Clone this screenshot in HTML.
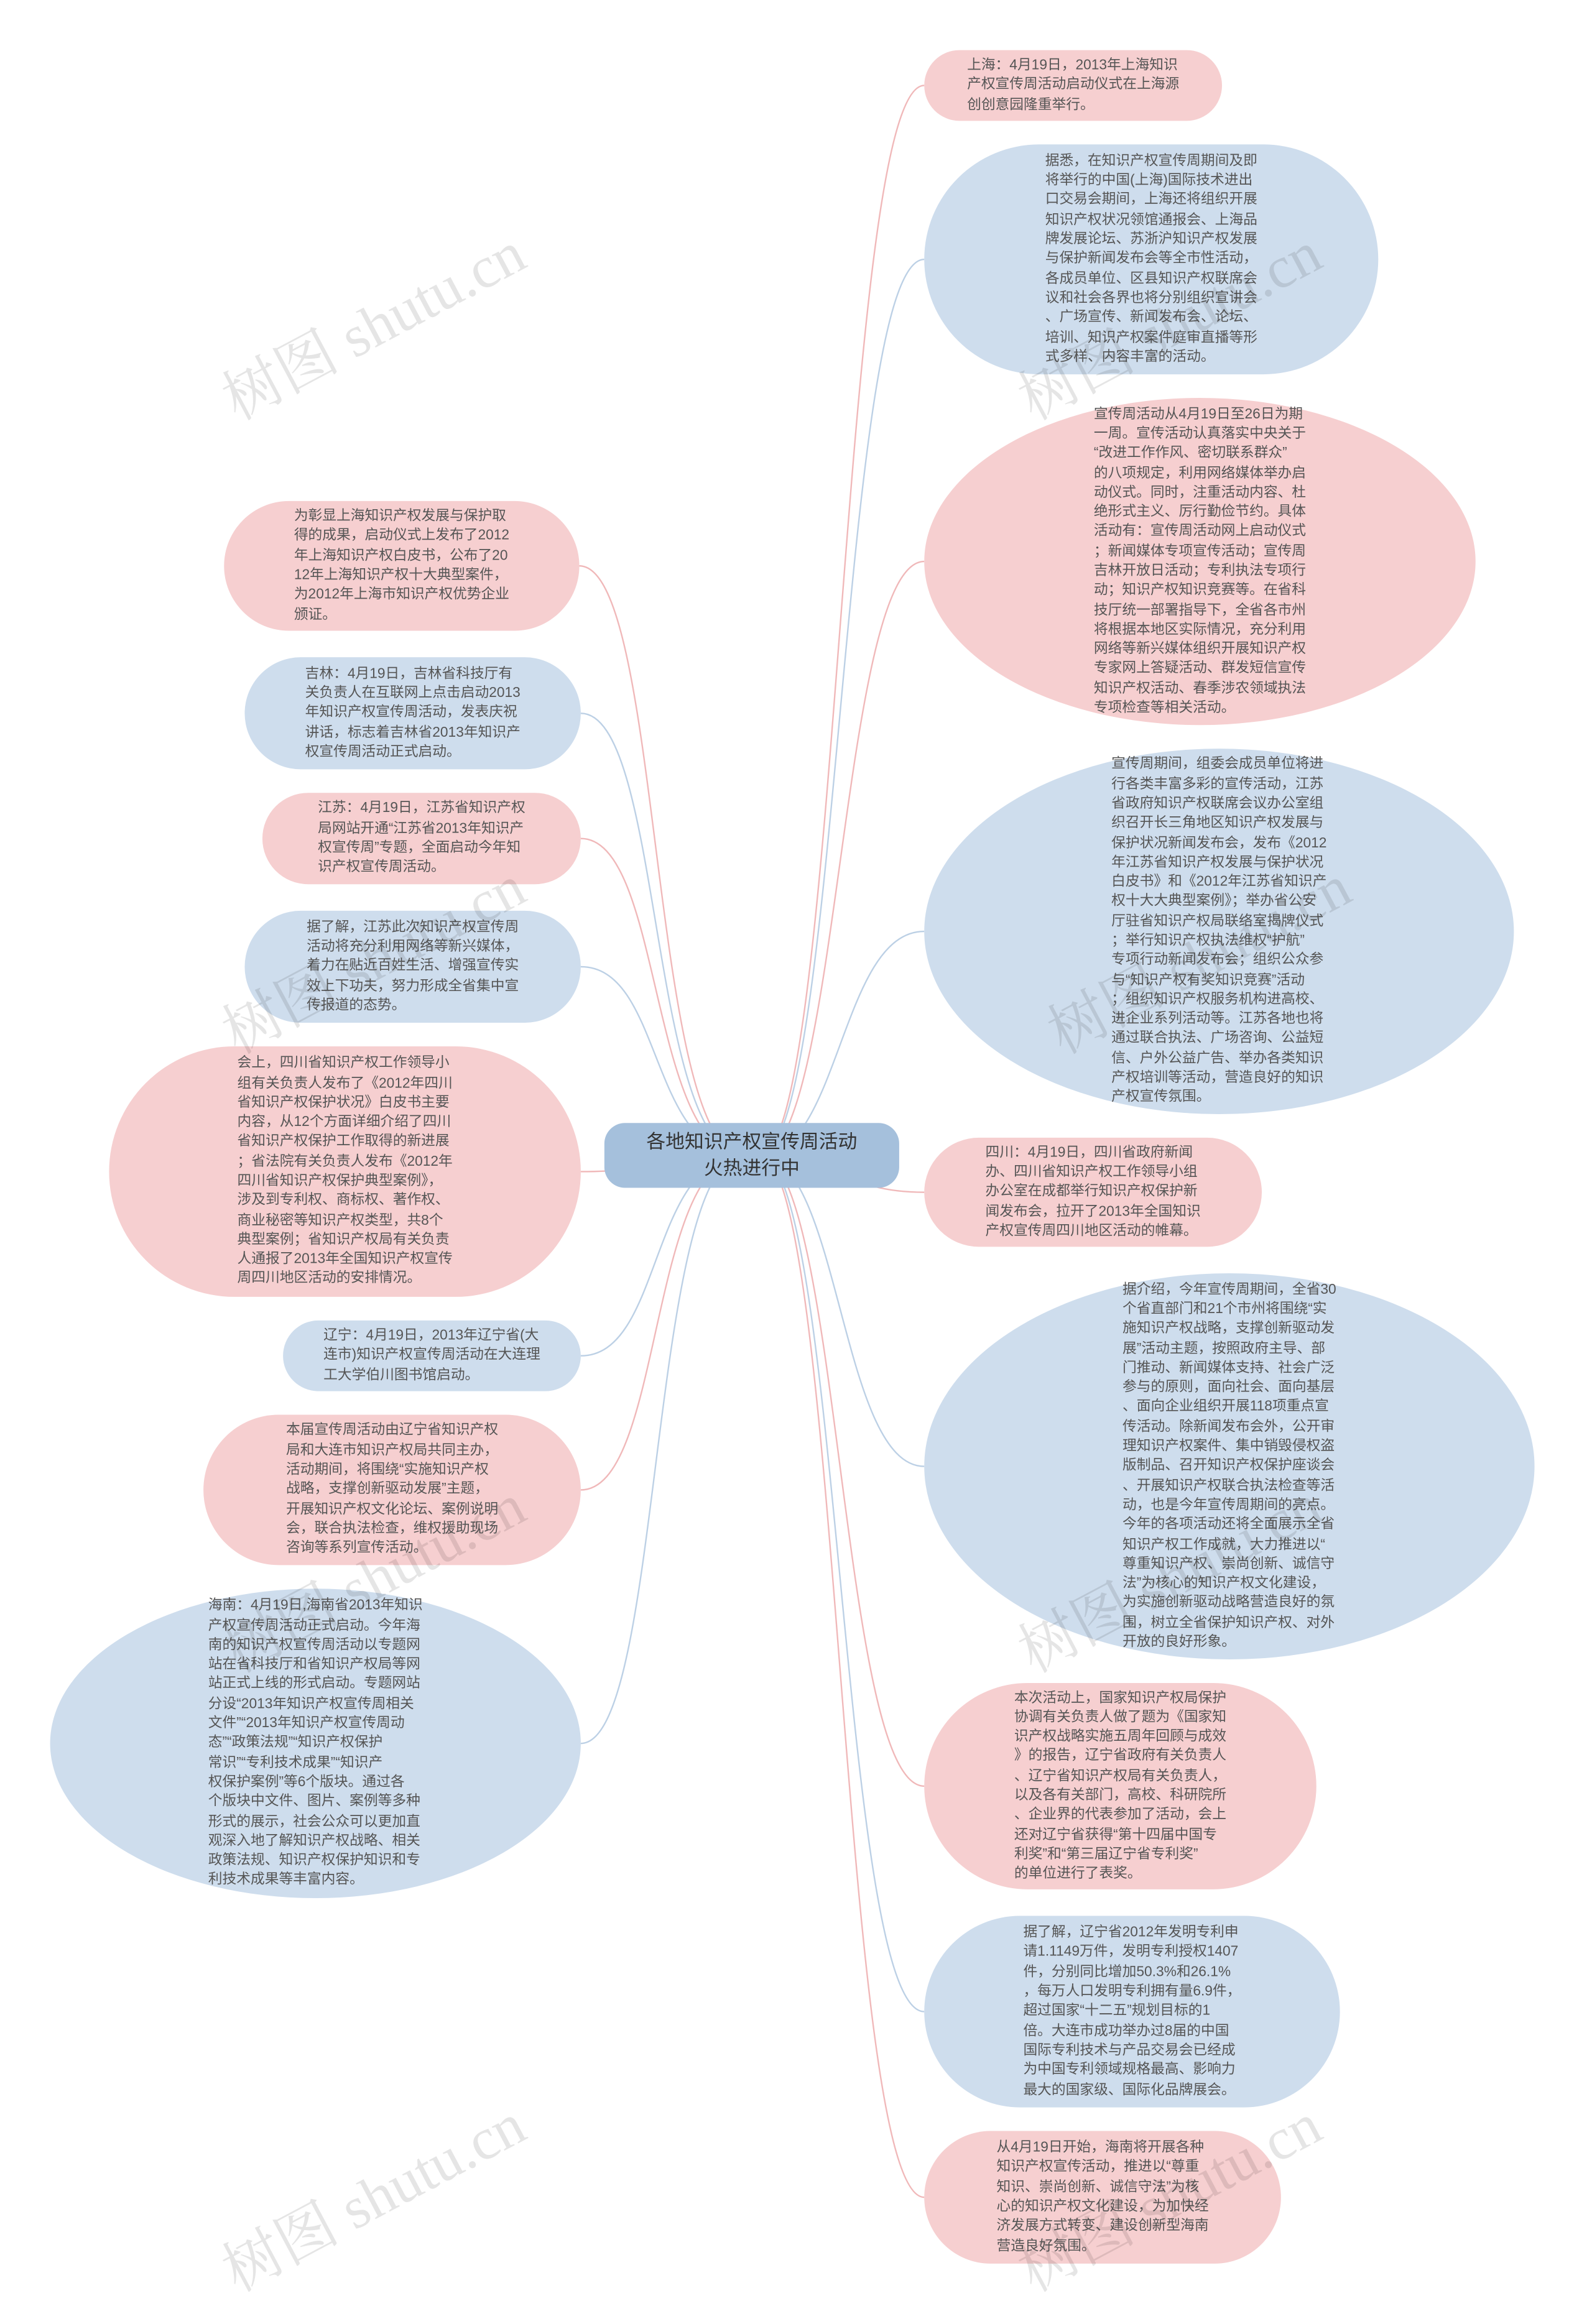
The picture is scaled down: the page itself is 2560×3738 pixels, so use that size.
<!DOCTYPE html>
<html><head><meta charset="utf-8"><style>
html,body{margin:0;padding:0;background:#fff}
#w{width:1080px;height:1577px;position:relative;transform:scale(2.37037);transform-origin:0 0;overflow:hidden;font-family:"Liberation Sans","Noto Sans CJK SC",sans-serif}
.n{position:absolute;box-sizing:border-box;display:flex;align-items:center;justify-content:center;font-size:9.6px;line-height:13.3px;color:#555}
.n div{text-align:left;white-space:nowrap}
.p{background:#f6cfd0}
.b{background:#cedded}
.c{background:#a5c0dc;font-size:13px;line-height:18px;color:#333}
.c div{text-align:center}
.wm{position:absolute;font-size:40px;color:rgba(0,0,0,0.10);transform:rotate(-28deg);white-space:nowrap;font-family:"Liberation Serif","Noto Serif CJK SC",serif}
svg{position:absolute;left:0;top:0}
</style></head><body><div id="w">
<svg width="1080" height="1577" fill="none" stroke-width="1">
<g stroke="#f0b8b9">
<path d="M515 784 C570 784 570 58 627 58"/>
<path d="M515 784 C570 784 570 381 627 381"/>
<path d="M515 784 C570 784 570 809 627 809"/>
<path d="M515 784 C570 784 570 1212 627 1212"/>
<path d="M515 784 C570 784 570 1491 627 1491"/>
<path d="M505 784 C440 784 450 384 393 384"/>
<path d="M505 784 C440 784 450 569 394 569"/>
<path d="M505 784 C440 784 450 795 394 795"/>
<path d="M505 784 C440 784 450 1011 394 1011"/>
</g>
<g stroke="#bcd0e5">
<path d="M515 784 C570 784 570 176 627 176"/>
<path d="M515 784 C570 784 570 632 627 632"/>
<path d="M515 784 C570 784 570 995 627 995"/>
<path d="M515 784 C570 784 570 1365 627 1365"/>
<path d="M505 784 C440 784 450 484 394 484"/>
<path d="M505 784 C440 784 450 656 394 656"/>
<path d="M505 784 C440 784 450 920 394 920"/>
<path d="M505 784 C440 784 450 1183 394 1183"/>
</g>
</svg>

<div class="n c" style="left:410px;top:762px;width:200px;height:44px;border-radius:14px"><div>各地知识产权宣传周活动<br>火热进行中</div></div>

<div class="n p" style="left:627px;top:34px;width:202px;height:48px;border-radius:24px"><div>上海：4月19日，2013年上海知识<br>产权宣传周活动启动仪式在上海源<br>创创意园隆重举行。</div></div>

<div class="n b" style="left:627px;top:98px;width:308px;height:156px;border-radius:78px"><div>据悉，在知识产权宣传周期间及即<br>将举行的中国(上海)国际技术进出<br>口交易会期间，上海还将组织开展<br>知识产权状况领馆通报会、上海品<br>牌发展论坛、苏浙沪知识产权发展<br>与保护新闻发布会等全市性活动，<br>各成员单位、区县知识产权联席会<br>议和社会各界也将分别组织宣讲会<br>、广场宣传、新闻发布会、论坛、<br>培训、知识产权案件庭审直播等形<br>式多样、内容丰富的活动。</div></div>

<div class="n p" style="left:627px;top:270px;width:374px;height:222px;border-radius:50%"><div>宣传周活动从4月19日至26日为期<br>一周。宣传活动认真落实中央关于<br>“改进工作作风、密切联系群众”<br>的八项规定，利用网络媒体举办启<br>动仪式。同时，注重活动内容、杜<br>绝形式主义、厉行勤俭节约。具体<br>活动有：宣传周活动网上启动仪式<br>；新闻媒体专项宣传活动；宣传周<br>吉林开放日活动；专利执法专项行<br>动；知识产权知识竞赛等。在省科<br>技厅统一部署指导下，全省各市州<br>将根据本地区实际情况，充分利用<br>网络等新兴媒体组织开展知识产权<br>专家网上答疑活动、群发短信宣传<br>知识产权活动、春季涉农领域执法<br>专项检查等相关活动。</div></div>

<div class="n b" style="left:627px;top:508px;width:400px;height:248px;border-radius:50%"><div>宣传周期间，组委会成员单位将进<br>行各类丰富多彩的宣传活动，江苏<br>省政府知识产权联席会议办公室组<br>织召开长三角地区知识产权发展与<br>保护状况新闻发布会，发布《2012<br>年江苏省知识产权发展与保护状况<br>白皮书》和《2012年江苏省知识产<br>权十大大典型案例》；举办省公安<br>厅驻省知识产权局联络室揭牌仪式<br>；举行知识产权执法维权“护航”<br>专项行动新闻发布会；组织公众参<br>与“知识产权有奖知识竞赛”活动<br>；组织知识产权服务机构进高校、<br>进企业系列活动等。江苏各地也将<br>通过联合执法、广场咨询、公益短<br>信、户外公益广告、举办各类知识<br>产权培训等活动，营造良好的知识<br>产权宣传氛围。</div></div>

<div class="n p" style="left:627px;top:772px;width:229px;height:74px;border-radius:37px"><div>四川：4月19日，四川省政府新闻<br>办、四川省知识产权工作领导小组<br>办公室在成都举行知识产权保护新<br>闻发布会，拉开了2013年全国知识<br>产权宣传周四川地区活动的帷幕。</div></div>

<div class="n b" style="left:627px;top:864px;width:414px;height:262px;border-radius:50%"><div>据介绍，今年宣传周期间，全省30<br>个省直部门和21个市州将围绕“实<br>施知识产权战略，支撑创新驱动发<br>展”活动主题，按照政府主导、部<br>门推动、新闻媒体支持、社会广泛<br>参与的原则，面向社会、面向基层<br>、面向企业组织开展118项重点宣<br>传活动。除新闻发布会外，公开审<br>理知识产权案件、集中销毁侵权盗<br>版制品、召开知识产权保护座谈会<br>、开展知识产权联合执法检查等活<br>动，也是今年宣传周期间的亮点。<br>今年的各项活动还将全面展示全省<br>知识产权工作成就，大力推进以“<br>尊重知识产权、崇尚创新、诚信守<br>法”为核心的知识产权文化建设，<br>为实施创新驱动战略营造良好的氛<br>围，树立全省保护知识产权、对外<br>开放的良好形象。</div></div>

<div class="n p" style="left:627px;top:1142px;width:266px;height:140px;border-radius:70px"><div>本次活动上，国家知识产权局保护<br>协调有关负责人做了题为《国家知<br>识产权战略实施五周年回顾与成效<br>》的报告，辽宁省政府有关负责人<br>、辽宁省知识产权局有关负责人，<br>以及各有关部门，高校、科研院所<br>、企业界的代表参加了活动，会上<br>还对辽宁省获得“第十四届中国专<br>利奖”和“第三届辽宁省专利奖”<br>的单位进行了表奖。</div></div>

<div class="n b" style="left:627px;top:1300px;width:282px;height:130px;border-radius:65px"><div>据了解，辽宁省2012年发明专利申<br>请1.1149万件，发明专利授权1407<br>件，分别同比增加50.3%和26.1%<br>，每万人口发明专利拥有量6.9件，<br>超过国家“十二五”规划目标的1<br>倍。大连市成功举办过8届的中国<br>国际专利技术与产品交易会已经成<br>为中国专利领域规格最高、影响力<br>最大的国家级、国际化品牌展会。</div></div>

<div class="n p" style="left:627px;top:1446px;width:242px;height:90px;border-radius:45px"><div>从4月19日开始，海南将开展各种<br>知识产权宣传活动，推进以“尊重<br>知识、崇尚创新、诚信守法”为核<br>心的知识产权文化建设，为加快经<br>济发展方式转变、建设创新型海南<br>营造良好氛围。</div></div>

<div class="n p" style="left:152px;top:340px;width:241px;height:88px;border-radius:44px"><div>为彰显上海知识产权发展与保护取<br>得的成果，启动仪式上发布了2012<br>年上海知识产权白皮书，公布了20<br>12年上海知识产权十大典型案件，<br>为2012年上海市知识产权优势企业<br>颁证。</div></div>

<div class="n b" style="left:166px;top:446px;width:228px;height:76px;border-radius:38px"><div>吉林：4月19日，吉林省科技厅有<br>关负责人在互联网上点击启动2013<br>年知识产权宣传周活动，发表庆祝<br>讲话，标志着吉林省2013年知识产<br>权宣传周活动正式启动。</div></div>

<div class="n p" style="left:178px;top:538px;width:216px;height:62px;border-radius:31px"><div>江苏：4月19日，江苏省知识产权<br>局网站开通“江苏省2013年知识产<br>权宣传周”专题，全面启动今年知<br>识产权宣传周活动。</div></div>

<div class="n b" style="left:166px;top:618px;width:228px;height:76px;border-radius:38px"><div>据了解，江苏此次知识产权宣传周<br>活动将充分利用网络等新兴媒体，<br>着力在贴近百姓生活、增强宣传实<br>效上下功夫，努力形成全省集中宣<br>传报道的态势。</div></div>

<div class="n p" style="left:74px;top:710px;width:320px;height:170px;border-radius:85px"><div>会上，四川省知识产权工作领导小<br>组有关负责人发布了《2012年四川<br>省知识产权保护状况》白皮书主要<br>内容，从12个方面详细介绍了四川<br>省知识产权保护工作取得的新进展<br>；省法院有关负责人发布《2012年<br>四川省知识产权保护典型案例》，<br>涉及到专利权、商标权、著作权、<br>商业秘密等知识产权类型，共8个<br>典型案例；省知识产权局有关负责<br>人通报了2013年全国知识产权宣传<br>周四川地区活动的安排情况。</div></div>

<div class="n b" style="left:192px;top:896px;width:202px;height:48px;border-radius:24px"><div>辽宁：4月19日，2013年辽宁省(大<br>连市)知识产权宣传周活动在大连理<br>工大学伯川图书馆启动。</div></div>

<div class="n p" style="left:138px;top:960px;width:256px;height:102px;border-radius:51px"><div>本届宣传周活动由辽宁省知识产权<br>局和大连市知识产权局共同主办，<br>活动期间，将围绕“实施知识产权<br>战略，支撑创新驱动发展”主题，<br>开展知识产权文化论坛、案例说明<br>会，联合执法检查，维权援助现场<br>咨询等系列宣传活动。</div></div>

<div class="n b" style="left:34px;top:1078px;width:360px;height:210px;border-radius:50%"><div>海南：4月19日,海南省2013年知识<br>产权宣传周活动正式启动。今年海<br>南的知识产权宣传周活动以专题网<br>站在省科技厅和省知识产权局等网<br>站正式上线的形式启动。专题网站<br>分设“2013年知识产权宣传周相关<br>文件”“2013年知识产权宣传周动<br>态”“政策法规”“知识产权保护<br>常识”“专利技术成果”“知识产<br>权保护案例”等6个版块。通过各<br>个版块中文件、图片、案例等多种<br>形式的展示，社会公众可以更加直<br>观深入地了解知识产权战略、相关<br>政策法规、知识产权保护知识和专<br>利技术成果等丰富内容。</div></div>

<div class="wm" style="left:140px;top:190px">树图 shutu.cn</div>
<div class="wm" style="left:680px;top:190px">树图 shutu.cn</div>
<div class="wm" style="left:140px;top:620px">树图 shutu.cn</div>
<div class="wm" style="left:700px;top:620px">树图 shutu.cn</div>
<div class="wm" style="left:680px;top:1040px">树图 shutu.cn</div>
<div class="wm" style="left:140px;top:1040px">树图 shutu.cn</div>
<div class="wm" style="left:140px;top:1460px">树图 shutu.cn</div>
<div class="wm" style="left:680px;top:1460px">树图 shutu.cn</div>
</div></body></html>
